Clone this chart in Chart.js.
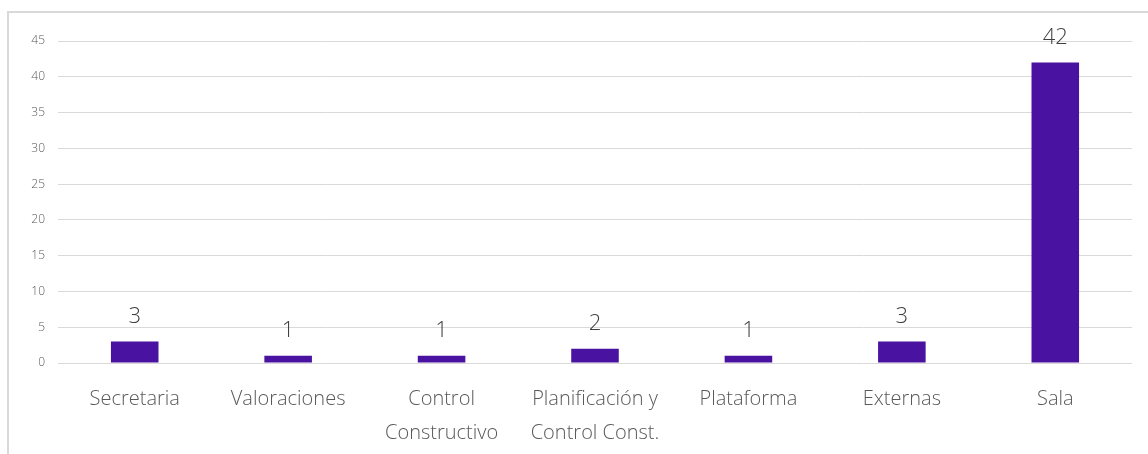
<!DOCTYPE html>
<html>
<head>
<meta charset="utf-8">
<script src="https://cdn.jsdelivr.net/npm/chart.js@4.4.0/dist/chart.umd.min.js"></script>
<style>
  html, body { margin: 0; padding: 0; background: #ffffff; }
  #wrap { position: relative; width: 1148px; height: 454px; }
</style>
</head>
<body>
<div id="wrap"><canvas id="chart" width="1148" height="454"></canvas></div>
<script>
const categories = [
    'Secretaria',
    'Valoraciones',
    ['Control', 'Constructivo'],
    ['Planificación y', 'Control Const.'],
    'Plataforma',
    'Externas',
    'Sala'
];
const values = [3, 1, 1, 2, 1, 3, 42];
const yMax = 45;
const yStep = 5;

const fontFamily = '"Open Sans", Lato, sans-serif';

// outer chart frame, like the spreadsheet chart box
const framePlugin = {
    id: 'frame',
    beforeDraw(chart) {
        const ctx = chart.ctx;
        ctx.save();
        ctx.strokeStyle = '#d9d9d9';
        ctx.lineWidth = 2;
        ctx.strokeRect(8, 12, 1160, 460);
        ctx.restore();
    }
};

// value labels above each bar
const valueLabels = {
    id: 'valueLabels',
    afterDatasetsDraw(chart) {
        const ctx = chart.ctx;
        const meta = chart.getDatasetMeta(0);
        ctx.save();
        ctx.font = '300 22px ' + fontFamily;
        ctx.fillStyle = '#404040';
        ctx.textAlign = 'center';
        ctx.textBaseline = 'bottom';
        meta.data.forEach(function(bar, i) {
            ctx.fillText(String(values[i]), bar.x, bar.y - 14);
        });
        ctx.restore();
    }
};

const ctx = document.getElementById('chart').getContext('2d');
new Chart(ctx, {
    type: 'bar',
    data: {
        labels: categories,
        datasets: [{
            data: values,
            backgroundColor: '#4a12a0',
            barPercentage: 0.31,
            categoryPercentage: 1.0
        }]
    },
    options: {
        responsive: false,
        animation: false,
        layout: { padding: { top: 41, right: 16, bottom: 0, left: 0 } },
        plugins: {
            legend: { display: false },
            tooltip: { enabled: false }
        },
        scales: {
            x: {
                grid: { display: false, drawTicks: false },
                border: { display: false },
                ticks: {
                    color: '#595959',
                    font: { family: fontFamily, size: 20, weight: 300, lineHeight: 1.7 },
                    padding: 19,
                    maxRotation: 0,
                    autoSkip: false
                },
                afterFit(scale) { scale.height = 91; }
            },
            y: {
                min: 0,
                max: yMax,
                grid: { color: '#d9d9d9', lineWidth: 1, drawTicks: false },
                border: { display: false },
                ticks: {
                    stepSize: yStep,
                    color: '#595959',
                    font: { family: fontFamily, size: 12, weight: 300 },
                    padding: 13
                },
                afterFit(scale) { scale.width = 58; }
            }
        }
    },
    plugins: [framePlugin, valueLabels]
});
</script>
</body>
</html>
